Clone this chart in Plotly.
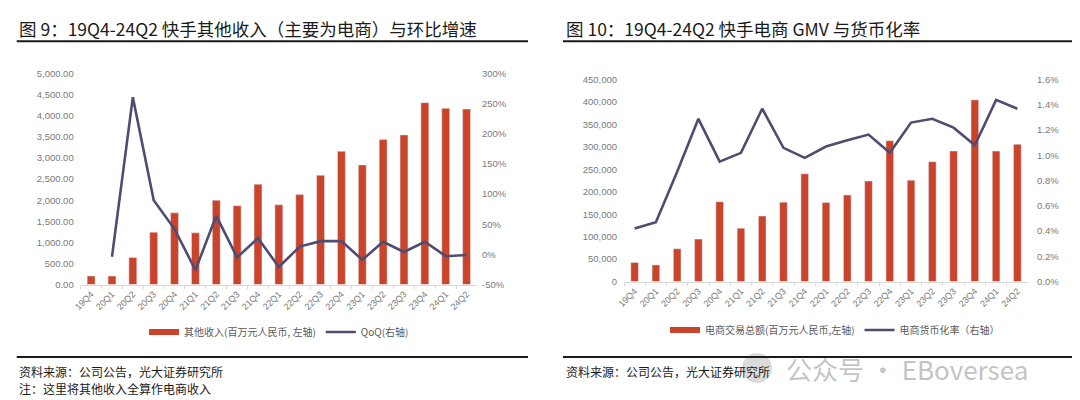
import plotly.graph_objects as go

quarters = ["19Q4", "20Q1", "20Q2", "20Q3", "20Q4", "21Q1", "21Q2", "21Q3", "21Q4",
            "22Q1", "22Q2", "22Q3", "22Q4", "23Q1", "23Q2", "23Q3", "23Q4", "24Q1", "24Q2"]

# Left chart: other revenue (mn RMB) and QoQ (%)
other_rev = [200, 200, 640, 1240, 1700, 1225, 2000, 1870, 2380,
             1890, 2133, 2590, 3160, 2835, 3437, 3547, 4313, 4178, 4163]
qoq = [None, -4, 261, 90, 42, -26, 64, -5, 27,
       -21, 13, 22, 22, -9, 21, 4, 21, -3, -1]

# Right chart: e-commerce GMV (mn RMB) and monetization rate (%)
gmv = [42400, 37000, 73000, 94500, 178000, 119000, 146000, 177000, 240000,
       176000, 193000, 224000, 314000, 226000, 267000, 291000, 405000, 291000, 306000]
mon_rate = [0.42, 0.47, 0.87, 1.29, 0.95, 1.02, 1.37, 1.06, 0.98,
            1.07, 1.12, 1.165, 1.02, 1.26, 1.29, 1.22, 1.08, 1.44, 1.37]

left_ticks = [i * 500 for i in range(11)]
left_tick_text = [f"{v:,.2f}" for v in left_ticks]
left_r_ticks = [-50, 0, 50, 100, 150, 200, 250, 300]
left_r_text = [f"{v}%" for v in left_r_ticks]
right_ticks = [i * 50000 for i in range(10)]
right_tick_text = [f"{v:,}" for v in right_ticks]
right_r_ticks = [0.0, 0.2, 0.4, 0.6, 0.8, 1.0, 1.2, 1.4, 1.6]
right_r_text = [f"{v:.1f}%" for v in right_r_ticks]

BAR = "#C9442A"
LINE = "#4F4C72"
TICK = "#7A7A7A"
FONT = "Liberation Sans, Noto Sans CJK SC, sans-serif"
CJK = "Noto Sans CJK SC, sans-serif"

W, H = 1080, 400
def px(x): return x / W
def py(y): return 1 - y / H

fig = go.Figure()

# ---- left chart
fig.add_trace(go.Bar(x=quarters, y=other_rev, marker_color=BAR, width=0.38,
                     xaxis="x", yaxis="y", showlegend=False, name="其他收入"))
fig.add_trace(go.Scatter(x=quarters, y=qoq, mode="lines", line=dict(color=LINE, width=2.6),
                         xaxis="x", yaxis="y2", showlegend=False, name="QoQ"))
fig.add_trace(go.Scatter(x=[None], y=[None], mode="lines", line=dict(color=BAR, width=6),
                         xaxis="x", yaxis="y", name="其他收入(百万元人民币, 左轴)", legend="legend"))
fig.add_trace(go.Scatter(x=[None], y=[None], mode="lines", line=dict(color=LINE, width=2.6),
                         xaxis="x", yaxis="y", name="QoQ(右轴)", legend="legend"))

# ---- right chart
fig.add_trace(go.Bar(x=quarters, y=gmv, marker_color=BAR, width=0.36,
                     xaxis="x2", yaxis="y3", showlegend=False, name="GMV"))
fig.add_trace(go.Scatter(x=quarters, y=mon_rate, mode="lines", line=dict(color=LINE, width=2.6),
                         xaxis="x2", yaxis="y4", showlegend=False, name="货币化率"))
fig.add_trace(go.Scatter(x=[None], y=[None], mode="lines", line=dict(color=BAR, width=6),
                         xaxis="x2", yaxis="y3", name="电商交易总额(百万元人民币,左轴)", legend="legend2"))
fig.add_trace(go.Scatter(x=[None], y=[None], mode="lines", line=dict(color=LINE, width=2.6),
                         xaxis="x2", yaxis="y3", name="电商货币化率（右轴）", legend="legend2"))

xcommon = dict(type="category", tickangle=-45, showline=True, linecolor="#D9D9D9", linewidth=1,
               ticks="outside", ticklen=3, tickcolor="#D9D9D9", tickson="boundaries",
               showgrid=False, zeroline=False, tickfont=dict(family=FONT, size=9, color=TICK),
               fixedrange=True, automargin=False)
ycommon = dict(showgrid=False, zeroline=False, showline=False, ticks="", tickmode="array",
               automargin=False, tickfont=dict(family=FONT, size=9.5, color=TICK))

fig.update_layout(
    width=W, height=H, margin=dict(l=0, r=0, t=0, b=0, autoexpand=False),
    paper_bgcolor="white", plot_bgcolor="white",
    xaxis=dict(domain=[px(72.7), px(469)], anchor="y", **xcommon),
    yaxis=dict(domain=[py(276.5), py(65.7)], range=[0, 5000], tickvals=left_ticks,
               ticktext=left_tick_text, ticklabelstandoff=6, **ycommon),
    yaxis2=dict(overlaying="y", side="right", anchor="x", range=[-50, 300], tickvals=left_r_ticks,
                ticktext=left_r_text, ticklabelstandoff=4, **ycommon),
    xaxis2=dict(domain=[px(616), px(1020)], anchor="y3", **xcommon),
    yaxis3=dict(domain=[py(273.5), py(71.7)], range=[0, 450000], tickvals=right_ticks,
                ticktext=right_tick_text, anchor="x2", ticklabelstandoff=6, **ycommon),
    yaxis4=dict(overlaying="y3", side="right", anchor="x2", range=[0, 1.6], tickvals=right_r_ticks,
                ticktext=right_r_text, ticklabelstandoff=8, **ycommon),
    legend=dict(orientation="h", x=px(136), y=py(324), xanchor="left", yanchor="middle",
                font=dict(family=CJK, size=10, color="#595959"), itemwidth=30,
                bgcolor="rgba(0,0,0,0)"),
    legend2=dict(orientation="h", x=px(657), y=py(322), xanchor="left", yanchor="middle",
                 font=dict(family=CJK, size=10, color="#595959"), itemwidth=30,
                 bgcolor="rgba(0,0,0,0)"),
)

# Titles, rules, sources
titles = [(8.7, "图 9：19Q4-24Q2 快手其他收入（主要为电商）与环比增速"),
          (555.6, "图 10：19Q4-24Q2 快手电商 GMV 与货币化率")]
for x0, t in titles:
    fig.add_annotation(text=t, x=px(x0), y=py(21), xref="paper", yref="paper",
                       xanchor="left", yanchor="middle", showarrow=False,
                       font=dict(family=CJK, size=17.5, color="#1A1A1A"))

for x0, x1 in [(8.7, 520), (555, 1066)]:
    for yy in (33.3, 349):
        fig.add_shape(type="line", xref="paper", yref="paper", x0=px(x0), x1=px(x1),
                      y0=py(yy), y1=py(yy), line=dict(color="#1A1A1A", width=2))

# watermark (behind source text)
fig.add_shape(type="circle", xref="paper", yref="paper", x0=px(734), x1=px(764),
              y0=py(375), y1=py(345), fillcolor="rgba(190,190,190,0.55)", line=dict(width=0),
              layer="below")
fig.add_annotation(text="公众号 · EBoversea", x=px(776), y=py(360), xref="paper", yref="paper",
                   xanchor="left", yanchor="middle", showarrow=False,
                   font=dict(family="Noto Sans CJK SC, sans-serif", size=26, color="rgba(185,185,185,0.85)"))

sources = [(8.7, 363, "资料来源：公司公告，光大证券研究所"),
           (8.7, 380.5, "注：这里将其他收入全算作电商收入"),
           (555.6, 363, "资料来源：公司公告，光大证券研究所")]
for x0, y0, t in sources:
    fig.add_annotation(text=t, x=px(x0), y=py(y0), xref="paper", yref="paper",
                       xanchor="left", yanchor="middle", showarrow=False,
                       font=dict(family=CJK, size=12, color="#1A1A1A"))

fig.write_html("out.html")
